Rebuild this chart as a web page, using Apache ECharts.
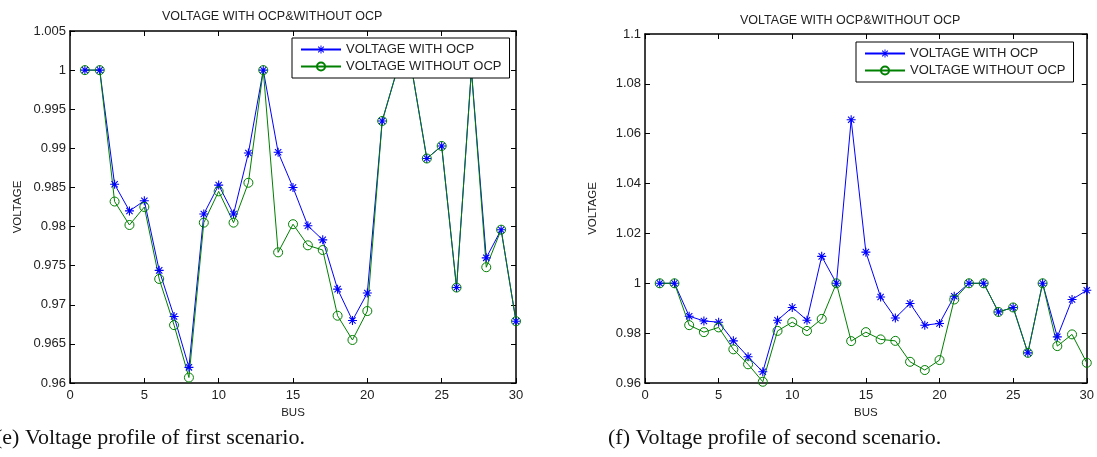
<!DOCTYPE html>
<html>
<head>
<meta charset="utf-8">
<script src="https://cdn.jsdelivr.net/npm/echarts@6/dist/echarts.min.js"></script>
<style>
  html, body { margin: 0; padding: 0; background: #fff; }
  #main { width: 1097px; height: 457px; }
</style>
</head>
<body>
<div id="main"></div>
<script>
// bus numbers (x axis)
var bus = [1, 2, 3, 4, 5, 6, 7, 8, 9, 10, 11, 12, 13, 14, 15, 16, 17, 18, 19, 20, 21, 22, 23, 24, 25, 26, 27, 28, 29, 30];

// (e) first scenario
var withOcp1 = [1.0, 1.0, 0.9854, 0.9820, 0.9833, 0.9744, 0.9685, 0.9620, 0.9816, 0.9853, 0.9816, 0.9894, 1.0, 0.9895, 0.9850,
    0.9801, 0.9783, 0.9720, 0.9680, 0.9715, 0.9935, 1.0, 1.0, 0.9887, 0.9903, 0.9722, 1.0, 0.9760, 0.9796, 0.9679];
var withoutOcp1 = [1.0, 1.0, 0.9832, 0.9802, 0.9825, 0.9733, 0.9674, 0.9607, 0.9805, 0.9845, 0.9805, 0.9856, 1.0, 0.9767, 0.9803,
    0.9776, 0.9770, 0.9686, 0.9655, 0.9692, 0.9935, 1.0, 1.0, 0.9887, 0.9903, 0.9722, 1.0, 0.9748, 0.9796, 0.9679];

// (f) second scenario
var withOcp2 = [1.0, 1.0, 0.9868, 0.9849, 0.9844, 0.9769, 0.9705, 0.9645, 0.9852, 0.9903, 0.9852, 1.0108, 1.0, 1.0656, 1.0125,
    0.9945, 0.9861, 0.9919, 0.9832, 0.9839, 0.9948, 1.0, 1.0, 0.9885, 0.9903, 0.9721, 1.0, 0.9785, 0.9935, 0.9972];
var withoutOcp2 = [1.0, 1.0, 0.9832, 0.9804, 0.9823, 0.9735, 0.9675, 0.9605, 0.9809, 0.9844, 0.9809, 0.9857, 1.0, 0.9768, 0.9804,
    0.9775, 0.9769, 0.9685, 0.9652, 0.9692, 0.9935, 1.0, 1.0, 0.9885, 0.9903, 0.9721, 1.0, 0.9748, 0.9795, 0.9681];

var titleText = 'VOLTAGE WITH OCP&WITHOUT OCP';
var nameWith = 'VOLTAGE WITH OCP';
var nameWithout = 'VOLTAGE WITHOUT OCP';
var captions = ['(e) Voltage profile of first scenario.', '(f) Voltage profile of second scenario.'];

function pairs(xs, ys) {
    return xs.map(function (x, i) { return [x, ys[i]]; });
}

// matlab style '*' marker
var starPath = 'path://M-1,-0.12L1,-0.12L1,0.12L-1,0.12Z' +
    'M-0.12,-1L0.12,-1L0.12,1L-0.12,1Z' +
    'M-0.615,-0.785L0.785,0.615L0.615,0.785L-0.785,-0.615Z' +
    'M-0.785,0.615L0.615,-0.785L0.785,-0.615L-0.615,0.785Z';

var font = 'Liberation Sans, Arial, sans-serif';
var serif = 'Liberation Serif, Times New Roman, serif';
var fmt = function (v) { return String(parseFloat(v.toFixed(3))); };

function xAx(grid, pos) {
    var main = pos === 'bottom';
    return {
        type: 'value', gridIndex: grid, position: pos,
        min: 0, max: 30, interval: 5,
        name: main ? 'BUS' : '', nameLocation: 'middle', nameGap: 22,
        nameTextStyle: { color: '#222', fontSize: 11.5, fontFamily: font },
        axisLine: { show: true, onZero: false, lineStyle: { color: '#000', width: 1.5 } },
        axisTick: { show: true, inside: true, length: 5, lineStyle: { color: '#000' } },
        axisLabel: { show: main, color: '#222', fontSize: 13, fontFamily: font, margin: 6 },
        splitLine: { show: false }
    };
}

function yAx(grid, pos, min, max, interval) {
    var main = pos === 'left';
    return {
        type: 'value', gridIndex: grid, position: pos,
        min: min, max: max, interval: interval,
        name: main ? 'VOLTAGE' : '', nameLocation: 'middle', nameGap: 46, nameRotate: 90,
        nameTextStyle: { color: '#222', fontSize: 11.5, fontFamily: font },
        axisLine: { show: true, onZero: false, lineStyle: { color: '#000', width: 1.5 } },
        axisTick: { show: true, inside: true, length: 5, lineStyle: { color: '#000' } },
        axisLabel: { show: main, color: '#222', fontSize: 13, fontFamily: font, margin: 4, formatter: fmt },
        splitLine: { show: false }
    };
}

function withSeries(name, xi, yi, data) {
    return {
        name: name, type: 'line', xAxisIndex: xi, yAxisIndex: yi,
        data: data, symbol: starPath, symbolSize: 9,
        showAllSymbol: true, animation: false,
        lineStyle: { color: '#0000ff', width: 1 },
        itemStyle: { color: '#0000ff' }
    };
}

function withoutSeries(name, xi, yi, data) {
    return {
        name: name, type: 'line', xAxisIndex: xi, yAxisIndex: yi,
        data: data, symbol: 'circle', symbolSize: 9,
        showAllSymbol: true, animation: false,
        lineStyle: { color: '#008000', width: 1 },
        itemStyle: { color: 'rgba(0,0,0,0)', borderColor: '#008000', borderWidth: 1 }
    };
}

function legendAt(left, top) {
    return {
        orient: 'vertical', left: left, top: top,
        data: [nameWith, nameWithout],
        backgroundColor: '#fff', borderColor: '#000', borderWidth: 1,
        padding: [5, 8, 5, 8], itemGap: 4, itemWidth: 40, itemHeight: 10,
        selectedMode: false,
        textStyle: { color: '#222', fontSize: 13, fontFamily: font }
    };
}

var dom = document.getElementById('main');
var myChart = echarts.init(dom, null, { renderer: 'canvas' });

var option = {
    backgroundColor: '#fff',
    animation: false,
    title: [
        { text: titleText, left: 162, top: 10, padding: 0,
          textStyle: { color: '#222', fontSize: 12.5, fontWeight: 'normal', fontFamily: font } },
        { text: titleText, left: 740, top: 14, padding: 0,
          textStyle: { color: '#222', fontSize: 12.5, fontWeight: 'normal', fontFamily: font } }
    ],
    grid: [
        { left: 70, right: 581, top: 31, bottom: 74 },
        { left: 645, right: 9, top: 34, bottom: 74 }
    ],
    legend: [legendAt(292, 38), legendAt(856, 42)],
    xAxis: [xAx(0, 'bottom'), xAx(0, 'top'), xAx(1, 'bottom'), xAx(1, 'top')],
    yAxis: [
        yAx(0, 'left', 0.96, 1.005, 0.005), yAx(0, 'right', 0.96, 1.005, 0.005),
        yAx(1, 'left', 0.96, 1.1, 0.02), yAx(1, 'right', 0.96, 1.1, 0.02)
    ],
    series: [
        withSeries(nameWith, 0, 0, pairs(bus, withOcp1)),
        withoutSeries(nameWithout, 0, 0, pairs(bus, withoutOcp1)),
        withSeries(nameWith, 2, 2, pairs(bus, withOcp2)),
        withoutSeries(nameWithout, 2, 2, pairs(bus, withoutOcp2))
    ],
    graphic: [
        { type: 'text', left: -5, top: 427,
          style: { text: captions[0], fill: '#111', fontSize: 22, fontFamily: serif } },
        { type: 'text', left: 608, top: 427,
          style: { text: captions[1], fill: '#111', fontSize: 22, fontFamily: serif } }
    ]
};

if (option && typeof option === "object") {
    myChart.setOption(option, true);
    window.onresize = myChart.resize;
}
</script>
</body>
</html>
